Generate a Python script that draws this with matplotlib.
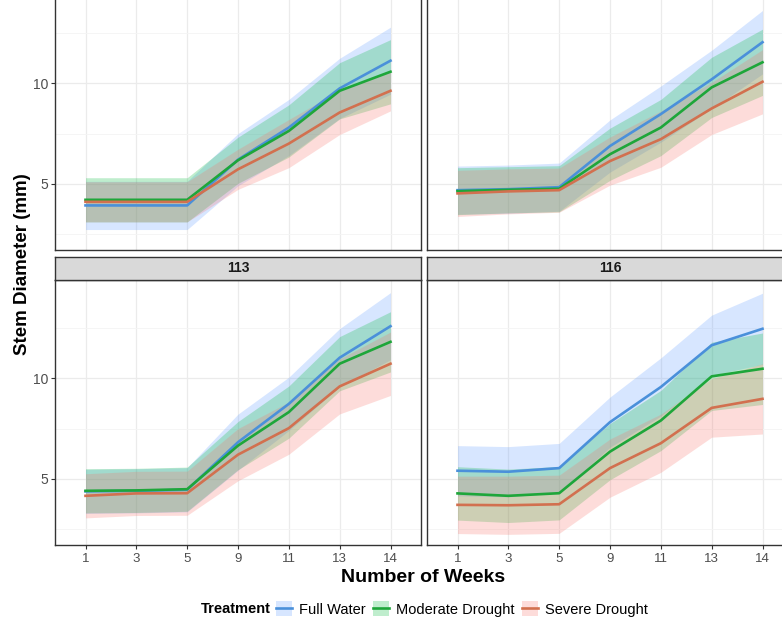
import matplotlib
matplotlib.use('Agg')
import matplotlib.pyplot as plt
from matplotlib.lines import Line2D
from matplotlib.patches import Patch
import numpy as np

plt.rcParams['font.family'] = ['Liberation Sans', 'DejaVu Sans']

weeks = ['1', '3', '5', '9', '11', '13', '14']
treatments = ['Full Water', 'Moderate Drought', 'Severe Drought']
line_colors = ['#4A90DA', '#1EA63A', '#D2704F']
fill_colors = ['#619CFF', '#00BA38', '#F8766D']
strip_labels = ['', '', '113', '116']

# top-left panel
tl_full = [3.92, 3.92, 3.92, 6.20, 7.80, 9.75, 11.13]
tl_full_ci = [1.20, 1.20, 1.20, 1.30, 1.40, 1.50, 1.67]
tl_mod = [4.20, 4.20, 4.20, 6.17, 7.63, 9.63, 10.58]
tl_mod_ci = [1.10, 1.10, 1.10, 1.15, 1.30, 1.40, 1.60]
tl_sev = [4.10, 4.10, 4.10, 5.72, 7.00, 8.55, 9.63]
tl_sev_ci = [1.00, 1.00, 1.00, 1.00, 1.20, 1.10, 1.00]

# top-right panel
tr_full = [4.68, 4.73, 4.83, 6.88, 8.47, 10.20, 12.05]
tr_full_ci = [1.20, 1.20, 1.20, 1.30, 1.40, 1.45, 1.58]
tr_mod = [4.63, 4.70, 4.75, 6.47, 7.80, 9.80, 11.05]
tr_mod_ci = [1.17, 1.15, 1.15, 1.30, 1.40, 1.50, 1.65]
tr_sev = [4.52, 4.62, 4.68, 6.13, 7.22, 8.75, 10.08]
tr_sev_ci = [1.15, 1.12, 1.10, 1.20, 1.40, 1.30, 1.60]

# panel 113
p113_full = [4.37, 4.40, 4.45, 6.82, 8.73, 11.03, 12.60]
p113_full_ci = [1.10, 1.10, 1.10, 1.40, 1.33, 1.45, 1.67]
p113_mod = [4.40, 4.42, 4.48, 6.65, 8.32, 10.73, 11.82]
p113_mod_ci = [1.10, 1.10, 1.10, 1.20, 1.30, 1.35, 1.50]
p113_sev = [4.15, 4.27, 4.28, 6.20, 7.52, 9.60, 10.73]
p113_sev_ci = [1.10, 1.10, 1.10, 1.30, 1.30, 1.37, 1.58]

# panel 116
p116_full = [5.40, 5.35, 5.53, 7.82, 9.57, 11.65, 12.47]
p116_full_ci = [1.25, 1.25, 1.23, 1.25, 1.45, 1.50, 1.77]
p116_mod = [4.27, 4.15, 4.28, 6.35, 7.90, 10.10, 10.48]
p116_mod_ci = [1.33, 1.33, 1.33, 1.40, 1.50, 1.70, 1.78]
p116_sev = [3.70, 3.68, 3.73, 5.53, 6.77, 8.53, 8.98]
p116_sev_ci = [1.43, 1.45, 1.45, 1.45, 1.45, 1.46, 1.75]

panels = [
    [(tl_full, tl_full_ci), (tl_mod, tl_mod_ci), (tl_sev, tl_sev_ci)],
    [(tr_full, tr_full_ci), (tr_mod, tr_mod_ci), (tr_sev, tr_sev_ci)],
    [(p113_full, p113_full_ci), (p113_mod, p113_mod_ci), (p113_sev, p113_sev_ci)],
    [(p116_full, p116_full_ci), (p116_mod, p116_mod_ci), (p116_sev, p116_sev_ci)],
]

W, H = 782, 618
fig = plt.figure(figsize=(W / 100, H / 100), dpi=100)


def rect(x0, ytop, w, h):
    return [x0 / W, 1 - (ytop + h) / H, w / W, h / H]


pw, ph = 366, 265
positions = [(55, -15), (427, -15), (55, 280), (427, 280)]
x = np.arange(len(weeks))
border = '#333333'

for i, (pos, series) in enumerate(zip(positions, panels)):
    ax = fig.add_axes(rect(pos[0], pos[1], pw, ph))
    for (m, ci), fc in zip(series, fill_colors):
        m = np.array(m); ci = np.array(ci)
        ax.fill_between(x, m - ci, m + ci, color=fc, alpha=0.25, lw=0, zorder=2)
    for (m, ci), lc in zip(series, line_colors):
        ax.plot(x, m, color=lc, lw=1.9, zorder=3, solid_joinstyle='round')
    ax.set_xlim(-0.6, 6.6)
    ax.set_ylim(1.7, 14.9)
    ax.set_xticks(x)
    ax.set_yticks([5, 10])
    ax.set_yticks([2.5, 7.5, 12.5], minor=True)
    ax.grid(True, which='major', color='#EBEBEB', lw=0.9, zorder=0)
    ax.grid(True, which='minor', axis='y', color='#F4F4F4', lw=0.6, zorder=0)
    ax.set_axisbelow(True)
    for s in ax.spines.values():
        s.set_color(border)
        s.set_linewidth(1.0)
    ax.tick_params(which='major', length=3, color=border, labelcolor='#4D4D4D')
    ax.tick_params(which='minor', length=0)
    ax.tick_params(axis='y', labelsize=10, pad=2)
    ax.tick_params(axis='x', labelsize=9.5, pad=3)
    if i in (2, 3):
        ax.set_xticklabels(weeks)
    else:
        ax.set_xticklabels([])
        ax.tick_params(axis='x', length=0)
    if i in (0, 2):
        ax.set_yticklabels(['5', '10'])
    else:
        ax.set_yticklabels([])
        ax.tick_params(axis='y', length=0)
    if strip_labels[i]:
        sax = fig.add_axes(rect(pos[0], pos[1] - 23, pw, 23))
        sax.set_facecolor('#D9D9D9')
        sax.set_xticks([]); sax.set_yticks([])
        for s in sax.spines.values():
            s.set_color(border)
            s.set_linewidth(1.0)
        sax.text(0.5, 0.5, strip_labels[i], ha='center', va='center',
                 fontsize=10, fontweight='bold', color='#1A1A1A',
                 transform=sax.transAxes)

fig.text(23 / W, 1 - 264 / H, 'Stem Diameter (mm)', rotation=90, ha='center',
         va='center', fontsize=13.5, fontweight='bold', color='black')
fig.text(423 / W, 1 - 577 / H, 'Number of Weeks', ha='center', va='center',
         fontsize=14, fontweight='bold', color='black')

fig.text(271 / W, 1 - 609 / H, 'Treatment', ha='right', va='center',
         fontsize=10.5, fontweight='bold', color='black')
handles = [(Patch(facecolor=fc, alpha=0.25, edgecolor='none'),
            Line2D([], [], color=lc, lw=1.9))
           for fc, lc in zip(fill_colors, line_colors)]
fig.legend(handles, treatments, loc='center left',
           bbox_to_anchor=(276 / W, 1 - 609 / H), ncol=3, frameon=False,
           fontsize=10.5, handlelength=1.1, handleheight=1.2, handletextpad=0.45,
           columnspacing=0.55, borderaxespad=0, borderpad=0)

fig.savefig('out.png', dpi=100)
